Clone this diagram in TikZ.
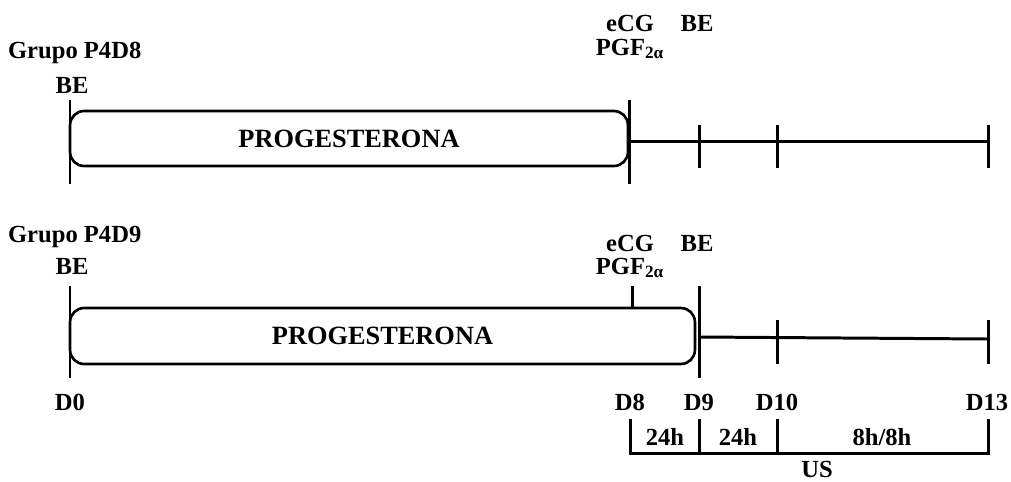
\documentclass[tikz,border=0pt]{standalone}
\usepackage{fontspec}
\setmainfont{Liberation Serif}
\begin{document}
\begin{tikzpicture}[x=0.02cm,y=-0.02cm,
    lbl/.style={font=\bfseries\fontsize{14}{16}\selectfont, inner sep=1pt},
    tl/.style={line width=1.7pt},
    prog/.style={draw, line width=1.5pt, rounded corners=8pt, inner sep=0pt,
      font=\bfseries\fontsize{15}{17}\selectfont}]
    \useasboundingbox (0,0) rectangle (1011,481);

    % Grupo P4D8
    \node[lbl, anchor=west] (g8) at (6,53) {Grupo P4D8};
    \node[lbl] (be8a) at (72,85) {BE};
    \node[lbl] (ecg8) at (630,23) {eCG};
    \node[lbl] (pgf8) at (630,49) {PGF\textsubscript{2α}};
    \node[lbl] (be8b) at (697,23) {BE};
    \node[prog, minimum width=11.16cm, minimum height=1.1cm] (prog8) at (349,138.5) {PROGESTERONA};
    \draw[tl] (70,100) coordinate (a0t) -- (70,184) coordinate (a0b);
    \draw[tl] (629,100) coordinate (a8t) -- (629,184) coordinate (a8b);
    \coordinate (a8) at (629,141);
    \coordinate (a13) at (988,141);
    \draw[tl] (a8) -- (a13);
    \foreach \x/\n in {699/a9, 777/a10, 988/a13} {
        \draw[tl] (\x,125) coordinate (\n t) -- (\x,168) coordinate (\n b);
    }

    % Grupo P4D9
    \node[lbl, anchor=west] (g9) at (6,237) {Grupo P4D9};
    \node[lbl] (be9a) at (72,266) {BE};
    \node[lbl] (ecg9) at (630,243) {eCG};
    \node[lbl] (pgf9) at (630,268) {PGF\textsubscript{2α}};
    \node[lbl] (be9b) at (697,243) {BE};
    \node[prog, minimum width=12.5cm, minimum height=1.12cm] (prog9) at (382.5,336) {PROGESTERONA};
    \draw[tl] (70,286) coordinate (b0t) -- (70,378) coordinate (b0b);
    \draw[tl] (632,286) coordinate (b8t) -- (prog9.north -| b8t);
    \draw[tl] (699,286) coordinate (b9t) -- (699,378) coordinate (b9b);
    \coordinate (b9) at (699,337);
    \coordinate (b13) at (988,339);
    \draw[tl] (b9) -- (b13);
    \foreach \x/\n in {777/b10, 988/b13} {
        \draw[tl] (\x,320) coordinate (\n t) -- (\x,364) coordinate (\n b);
    }

    % dias
    \foreach \x/\d in {70/D0, 630/D8, 699/D9, 777/D10, 987/D13} {
        \node[lbl] (\d) at (\x,402) {\d};
    }

    % intervalos
    \coordinate (u8) at (630,419);
    \coordinate (u13) at (988,419);
    \draw[tl] (u8) -- (u8 |- 0,453) -- (u13 |- 0,453) -- (u13);
    \foreach \x in {699, 777} {
        \draw[tl] (\x,419) -- (\x,453);
    }
    \node[lbl] (h1) at (665,437) {24h};
    \node[lbl] (h2) at (738,437) {24h};
    \node[lbl] (h3) at (882,437) {8h/8h};
    \node[lbl] (us) at (817,469) {US};
\end{tikzpicture}
\end{document}
